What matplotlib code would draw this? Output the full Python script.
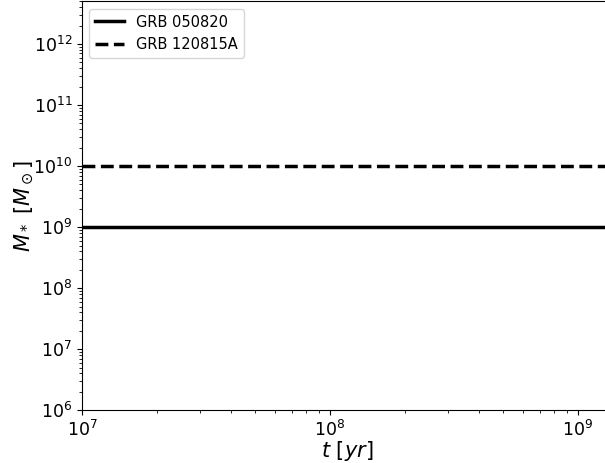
import matplotlib
matplotlib.use("Agg")
import matplotlib.pyplot as plt
import numpy as np

# data
t_range = [1e7, 1.37e9]
grb_names = ["GRB 050820", "GRB 120815A"]
grb_mstar = [1e9, 1e10]
grb_styles = ["-", "--"]

fig = plt.figure(figsize=(6.05, 4.63), dpi=100)
ax = fig.add_axes([0.1355, 0.114, 0.876, 0.883])

for name, m, ls in zip(grb_names, grb_mstar, grb_styles):
    ax.plot(t_range, [m, m], ls, color="black", lw=2.5, label=name)

ax.set_xscale("log")
ax.set_yscale("log")
ax.set_xlim(t_range[0], t_range[1])
ax.set_ylim(1e6, 5e12)
ax.tick_params(labelsize=12.5)
ax.set_xlabel(r"$t\ [yr]$", fontsize=15, labelpad=-0.5)
ax.set_ylabel(r"$M_*\ [M_\odot]$", fontsize=15, labelpad=-2)
ax.legend(loc="upper left", fontsize=10.5)

fig.savefig("out.png", dpi=100)
